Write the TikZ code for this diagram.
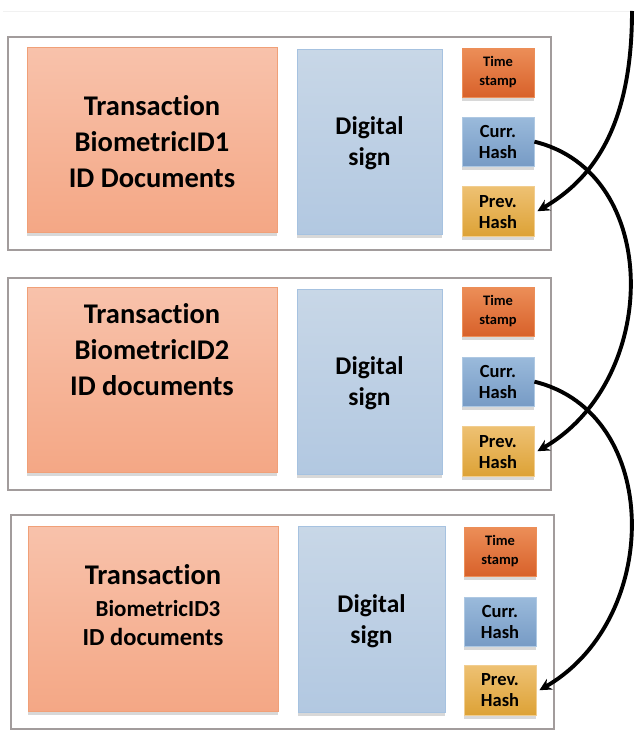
\documentclass[tikz,border=0pt]{standalone}
\usepackage{fontspec}
\setmainfont{Carlito}[Ligatures=NoCommon]
\usetikzlibrary{arrows.meta,shadows}

\definecolor{framegray}{HTML}{A29C9C}
\definecolor{txtop}{HTML}{F8C2AB}
\definecolor{txbot}{HTML}{F4A785}
\definecolor{txedge}{HTML}{F0A078}
\definecolor{sigtop}{HTML}{C8D7E7}
\definecolor{sigbot}{HTML}{B2C8E1}
\definecolor{sigedge}{HTML}{A6C2E0}
\definecolor{tstop}{HTML}{EC8E58}
\definecolor{tsbot}{HTML}{D8612A}
\definecolor{curtop}{HTML}{9ABADB}
\definecolor{curbot}{HTML}{779BC5}
\definecolor{prvtop}{HTML}{EEC173}
\definecolor{prvbot}{HTML}{DDA236}
\definecolor{faint}{HTML}{F1F1F1}

\tikzset{
  boxshadow/.style={drop shadow={opacity=0.3, shadow xshift=-0.5pt, shadow yshift=-4pt}},
  frame/.style={draw=framegray, line width=1.8pt, fill=white},
  txbox/.style={anchor=north west, draw=txedge, line width=0.6pt,
    top color=txtop, bottom color=txbot, boxshadow,
    minimum width=250pt, minimum height=185pt},
  sigbox/.style={anchor=north west, draw=sigedge, line width=0.6pt,
    top color=sigtop, bottom color=sigbot, boxshadow,
    minimum width=145pt, minimum height=185pt},
  smallbox/.style={anchor=north west, line width=0.4pt, boxshadow,
    minimum width=72pt, minimum height=49pt},
  tsbox/.style={smallbox, draw=tstop, top color=tstop, bottom color=tsbot},
  curbox/.style={smallbox, draw=curtop!80!white, top color=curtop, bottom color=curbot},
  prvbox/.style={smallbox, minimum height=50pt, draw=prvtop!80!white, top color=prvtop, bottom color=prvbot},
  bigtext/.style={align=center, font=\bfseries\fontsize{28.5}{36}\selectfont},
  lineat/.style={anchor=base, inner sep=0pt, font=\bfseries\fontsize{#1}{#1}\selectfont},
  sigtext/.style={align=center, font=\bfseries\fontsize{25.5}{31}\selectfont},
  tstext/.style={align=center, font=\bfseries\fontsize{14.5}{19}\selectfont},
  hashtext/.style={align=center, font=\bfseries\fontsize{18.5}{21}\selectfont},
  chain/.style={line width=3.9pt, -{Stealth[length=12pt,width=12pt]}},
}

\begin{document}
\begin{tikzpicture}[x=1pt,y=-1pt]
  \useasboundingbox (0,0) rectangle (635,730);
  \fill[white] (0,0) rectangle (635,730);

  % faint rule at the top of the page
  \draw[faint, line width=0.8pt] (3,11) -- (635,11);

  % ---------- block 1 ----------
  \node[frame, anchor=north west, minimum width=543pt, minimum height=213pt] (f1) at (7,36) {};
  \node[txbox] (tx1) at (27,47) {};
  \node[bigtext] (tx1t) at (152,142) {Transaction\\BiometricID1\\ID Documents};
  \node[sigbox] (sg1) at (297,49) {};
  \node[sigtext] (sg1t) at (369.5,143) {Digital\\sign};
  \node[tsbox] (ts1) at (462,48) {};
  \node[tstext] (ts1t) at (498,72) {Time\\stamp};
  \node[curbox] (cu1) at (462,117) {};
  \node[hashtext] (cu1t) at (498,142) {Curr.\\Hash};
  \node[prvbox] (pv1) at (462,186) {};
  \node[hashtext] (pv1t) at (498,212) {Prev.\\Hash};

  % ---------- block 2 ----------
  \node[frame, anchor=north west, minimum width=543pt, minimum height=212pt] (f2) at (7,277) {};
  \node[txbox] (tx2) at (27,287) {};
  \node[bigtext] (tx2t) at (152,350) {Transaction\\BiometricID2\\ID documents};
  \node[sigbox] (sg2) at (297,289) {};
  \node[sigtext] (sg2t) at (369.5,383) {Digital\\sign};
  \node[tsbox] (ts2) at (462,287) {};
  \node[tstext] (ts2t) at (498,311) {Time\\stamp};
  \node[curbox] (cu2) at (462,357) {};
  \node[hashtext] (cu2t) at (498,382) {Curr.\\Hash};
  \node[prvbox] (pv2) at (462,426) {};
  \node[hashtext] (pv2t) at (498,452) {Prev.\\Hash};

  % ---------- block 3 ----------
  \node[frame, anchor=north west, minimum width=543pt, minimum height=214pt] (f3) at (10,514) {};
  \node[txbox] (tx3) at (28,526) {};
  \node[lineat=28.5] (tx3a) at (153,584) {Transaction};
  \node[lineat=23] (tx3b) at (158,616.5) {BiometricID3};
  \node[lineat=24.5] (tx3c) at (153,645) {ID documents};
  \node[sigbox, minimum width=147pt, minimum height=186pt] (sg3) at (298,526) {};
  \node[sigtext] (sg3t) at (371.5,621) {Digital\\sign};
  \node[tsbox] (ts3) at (464,527) {};
  \node[tstext] (ts3t) at (500,551) {Time\\stamp};
  \node[curbox] (cu3) at (464,597) {};
  \node[hashtext] (cu3t) at (500,622) {Curr.\\Hash};
  \node[prvbox] (pv3) at (464,665) {};
  \node[hashtext] (pv3t) at (500,690) {Prev.\\Hash};

  % ---------- hash links ----------
  \coordinate (incoming) at (632,11);
  \draw[chain] (incoming) .. controls +(0,119) and +(53,-31) .. ([xshift=3pt]pv1.east);
  \draw[chain] (cu1.east) .. controls +(128,31) and +(123,-71) .. ([xshift=3pt]pv2.east);
  \draw[chain] (cu2.east) .. controls +(128,31) and +(123,-71) .. ([xshift=3pt]pv3.east);
\end{tikzpicture}
\end{document}
